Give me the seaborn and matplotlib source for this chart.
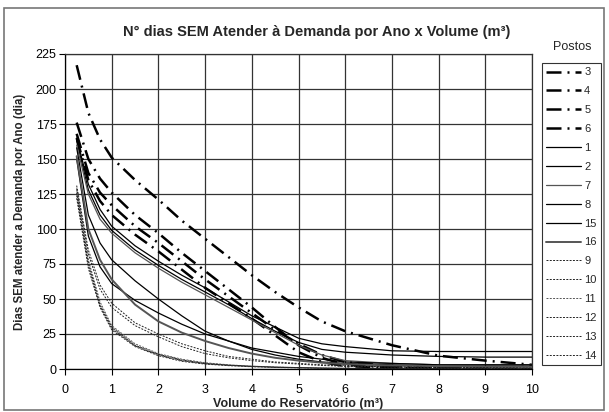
import matplotlib
matplotlib.use('Agg')
import matplotlib.pyplot as plt
from matplotlib.lines import Line2D
from matplotlib.patches import Rectangle
import pandas as pd
import seaborn as sns

# volume do reservatorio (m3)
volume = [0.25, 0.5, 0.75, 1, 1.5, 2, 2.5, 3, 3.5, 4, 4.5, 5, 5.5, 6, 7, 8, 9, 10]

# dias sem atender a demanda por ano, por posto
posto_3 = [217, 183, 164, 151, 135, 121, 106, 93, 80, 67, 55, 44, 34, 27, 17, 9.5, 6, 3]
posto_4 = [176, 150, 136, 126, 110, 97, 83, 70, 57, 44, 30, 17, 8, 3, 1, 0.5, 0, 0]
posto_5 = [168, 140, 126, 117, 102, 90, 77, 64, 52, 40, 28, 18, 10, 5, 2, 1, 0.5, 0]
posto_6 = [165, 135, 120, 110, 96, 84, 71, 58, 47, 36, 24, 12, 5, 2, 1, 0.5, 0, 0]
posto_1 = [165, 132, 114, 102, 88, 77, 67, 58, 48, 38, 30, 22, 18, 16, 13, 12.5, 12.5, 12.5]
posto_2 = [163, 128, 110, 99, 85, 74, 64, 55, 46, 36, 27, 19, 14, 12, 10, 9, 8.5, 8.5]
posto_7 = [160, 125, 107, 97, 83, 72, 62, 53, 44, 35, 26, 17, 10, 6, 4, 3, 3, 3]
posto_8 = [158, 110, 90, 78, 63, 50, 38, 27, 20, 14, 10, 7, 5, 4, 3, 2, 2, 2]
posto_15 = [150, 95, 73, 61, 49, 40, 32, 25, 20, 15, 12, 9, 7, 5, 4, 3, 3, 3]
posto_16 = [152, 100, 78, 64, 46, 34, 26, 20, 15, 11, 8, 6, 4.5, 3.5, 2.5, 2, 1.5, 1.5]
posto_9 = [131, 85, 60, 47, 33, 25, 18, 13, 9, 7, 5, 4, 3, 2, 1.5, 1, 1, 0.5]
posto_10 = [129, 82, 57, 44, 31, 23, 16, 11, 8, 6, 4.5, 3.5, 2.5, 2, 1.5, 1, 0.5, 0.5]
posto_11 = [128, 78, 48, 31, 18, 11, 7, 4.5, 3, 2, 1.5, 1, 0.7, 0.5, 0.3, 0.2, 0.1, 0]
posto_12 = [126, 76, 46, 30, 17, 10.5, 6.5, 4, 2.8, 2, 1.4, 1, 0.7, 0.5, 0.3, 0.2, 0.1, 0]
posto_13 = [124, 74, 45, 29, 16.5, 10, 6, 3.8, 2.6, 1.8, 1.2, 0.9, 0.6, 0.4, 0.2, 0.1, 0, 0]
posto_14 = [122, 72, 44, 28, 16, 9.5, 5.5, 3.5, 2.4, 1.6, 1.1, 0.8, 0.5, 0.3, 0.2, 0.1, 0, 0]

postos = ['3', '4', '5', '6', '1', '2', '7', '8', '15', '16',
          '9', '10', '11', '12', '13', '14']
series = [posto_3, posto_4, posto_5, posto_6, posto_1, posto_2, posto_7, posto_8,
          posto_15, posto_16, posto_9, posto_10, posto_11, posto_12, posto_13, posto_14]

df = pd.DataFrame({
    'volume': volume * len(postos),
    'dias': [v for s in series for v in s],
    'posto': [p for p in postos for _ in volume],
})

# estilos: 3-6 traco-ponto grosso, 1-16 continuo, 9-14 tracejado fino
dashdot = (6, 2.4, 0.8, 2.4)
fine = (2, 1.4)
palette, dashes, sizes = {}, {}, {}
for p in postos:
    if p in ('3', '4', '5', '6'):
        palette[p], dashes[p], sizes[p] = 'black', dashdot, 1.8
    elif p in ('9', '10', '11', '12', '13', '14'):
        palette[p], dashes[p], sizes[p] = '#222222', fine, 0.7
    else:
        palette[p], dashes[p], sizes[p] = 'black', '', 0.9
palette['7'] = '#555555'
palette['16'] = '#555555'
sizes['16'] = 1.4
palette['11'] = '#555555'

sns.set_theme(style='white')
plt.rcParams['font.family'] = ['Liberation Sans', 'DejaVu Sans']

fig = plt.figure(figsize=(6.09, 4.12), dpi=100)
ax = fig.add_axes([65 / 609, 1 - 369 / 412, (532 - 65) / 609, (369 - 54) / 412])

sns.lineplot(data=df, x='volume', y='dias', hue='posto', style='posto', size='posto',
             hue_order=postos, style_order=postos, size_order=postos,
             palette=palette, dashes=dashes, sizes=sizes,
             errorbar=None, legend=False, ax=ax)

ax.set_xlim(0, 10)
ax.set_ylim(0, 225)
ax.set_xticks(range(0, 11))
ax.set_yticks(range(0, 226, 25))
ax.grid(True, color='#333333', linewidth=0.9)
ax.set_axisbelow(True)
for sp in ax.spines.values():
    sp.set_color('#333333')
    sp.set_linewidth(0.9)
ax.spines['left'].set_color('black')
ax.spines['bottom'].set_color('black')
ax.tick_params(axis='both', which='major', labelsize=9, colors='black',
               direction='out', length=4, width=0.8, bottom=True, left=True)
ax.tick_params(axis='x', pad=7)
ax.tick_params(axis='y', pad=2)

ax.set_xlabel('Volume do Reservatório (m³)', fontsize=9, fontweight='bold', labelpad=1)
ax.set_ylabel('Dias SEM atender a Demanda por Ano (dia)', fontsize=8.3, fontweight='bold',
              labelpad=7)

fig.text(0.52, 0.922, 'N° dias SEM Atender à Demanda por Ano x Volume (m³)',
         ha='center', va='center', fontsize=10.5, fontweight='bold')

handles = []
for p in postos:
    ls = '-' if dashes[p] == '' else (0, dashes[p])
    handles.append(Line2D([], [], color=palette[p], linewidth=sizes[p], linestyle=ls))
leg = fig.legend(handles, postos, loc='upper left', bbox_to_anchor=(542 / 609, 1 - 63 / 412),
                 fontsize=8, frameon=True, fancybox=False, handlelength=3.1,
                 handletextpad=0.3, labelspacing=0.8, borderpad=0.4, borderaxespad=0)
leg.get_frame().set_edgecolor('black')
leg.get_frame().set_linewidth(0.8)
fig.text(0.94, 0.886, 'Postos', ha='center', va='center', fontsize=9)

fig.patches.append(Rectangle((4 / 609, 2 / 412), 600 / 609, 402 / 412,
                             transform=fig.transFigure, fill=False,
                             edgecolor='#777777', linewidth=1.2))

fig.savefig('out.png', dpi=100)
